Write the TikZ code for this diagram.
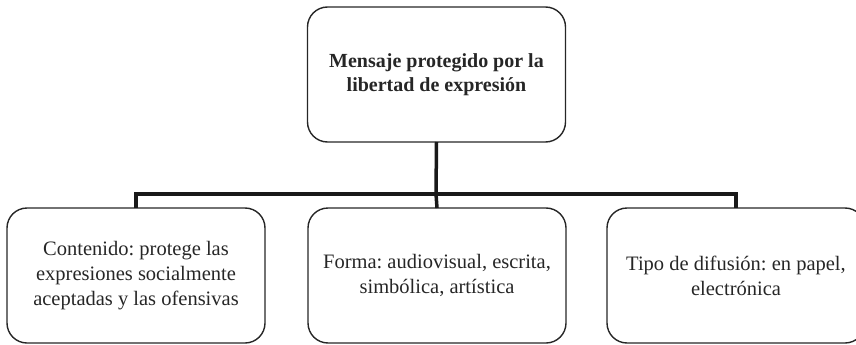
\documentclass[tikz,border=0pt]{standalone}
\usepackage{fontspec}
\setmainfont{Liberation Serif}
\frenchspacing
\tikzset{
  hojabox/.style={draw=black!85, line width=1.4pt, rounded corners=20pt,
    minimum width=258pt, minimum height=135pt, align=center, text=black!85,
    font=\fontsize{20.5}{25}\selectfont},
  raizbox/.style={hojabox, font=\fontsize{20}{24}\selectfont\bfseries},
  rama/.style={draw=black!90, line width=3.5pt}
}
\begin{document}
\begin{tikzpicture}[y=1pt, x=1pt, yscale=-1, inner sep=0pt, outer sep=0pt]
\useasboundingbox (0,0) rectangle (856,345);
  \node[raizbox] (raiz) at (436.5,74.5) {Mensaje protegido por la\\libertad de expresión};
  \node[hojabox] (contenido) at (136,275.5) {Contenido: protege las\\expresiones socialmente\\aceptadas y las ofensivas};
  \node[hojabox] (forma) at (437,275.5) {Forma: audiovisual, escrita,\\simbólica, artística};
  \node[hojabox] (difusion) at (736,275.5) {Tipo de difusión: en papel,\\electrónica};
  \coordinate (cruce) at (436,194);
  \path[rama] (raiz.south) -- (cruce);
  \path[rama] (contenido.north) |- (cruce) -| (difusion.north);
  \path[rama] (cruce) -- (forma.north);
\end{tikzpicture}
\end{document}
